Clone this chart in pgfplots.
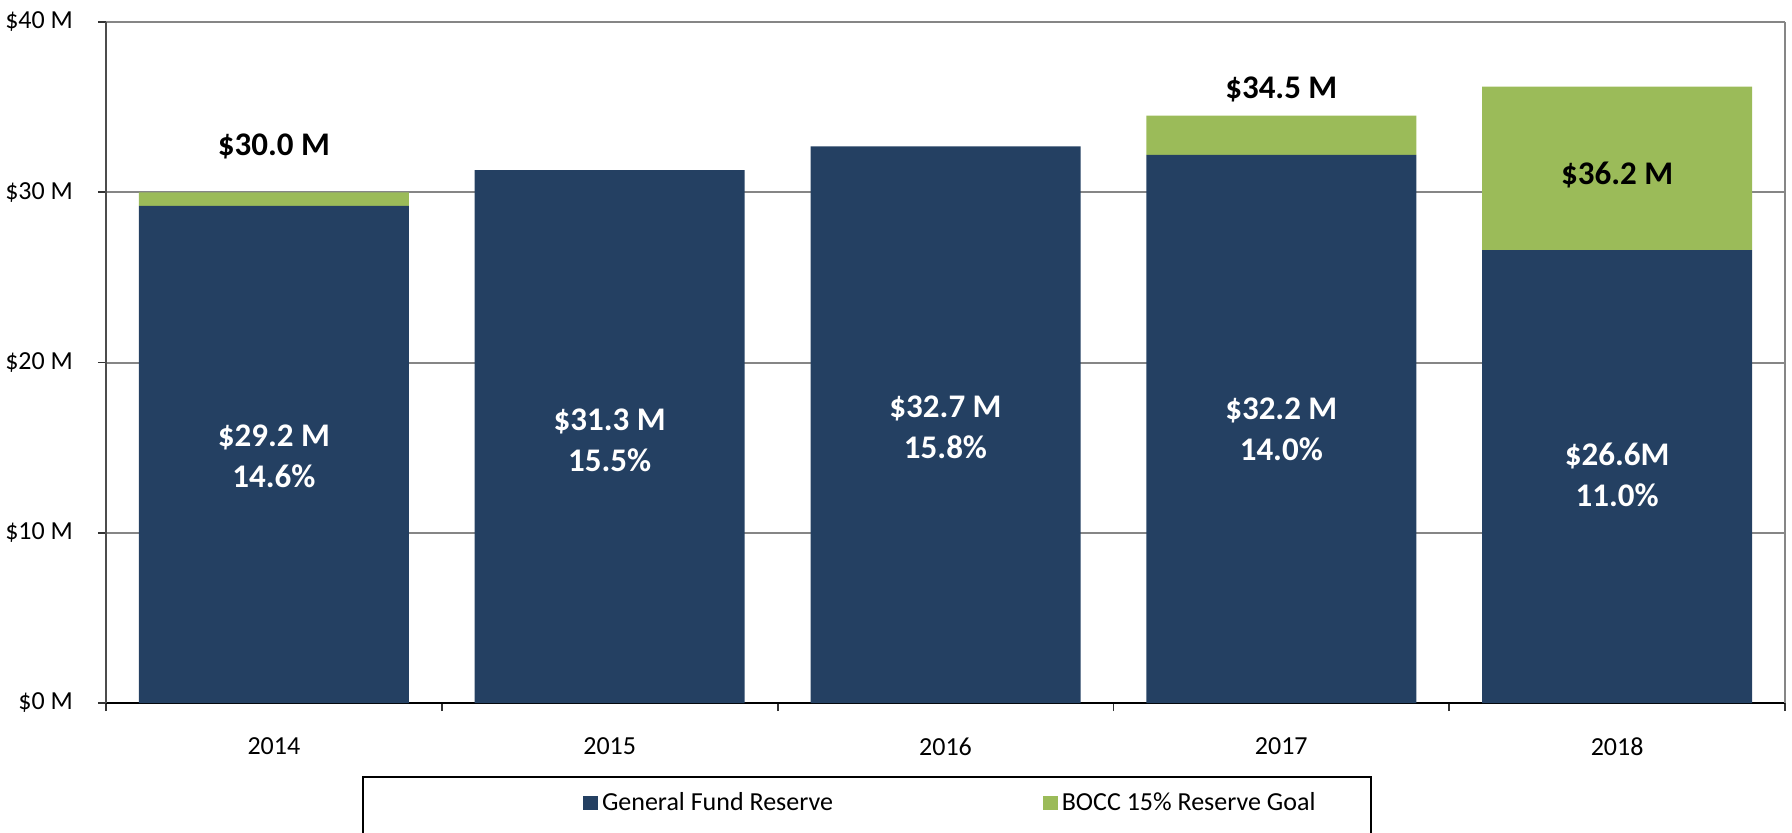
\documentclass[border=0pt]{standalone}
\usepackage{pgfplots}
\pgfplotsset{compat=1.18}
\usepackage{pgfplotstable}
\usepackage{fontspec}
\setmainfont{Carlito}
\definecolor{navy}{HTML}{244062}
\definecolor{leaf}{HTML}{9BBB59}
\definecolor{gridgray}{HTML}{868686}
\tikzset{lbl/.style={font=\fontsize{16.5}{20.5}\selectfont\bfseries, align=center}}
\pgfplotstableread{
x gf goal
0 29.2 0.8
1 31.3 0
2 32.7 0
3 32.2 2.3
4 26.6 9.6
}\reservetable
\begin{document}
\begin{tikzpicture}
\useasboundingbox (0,0) rectangle (896pt,416pt);
\begin{axis}[
  at={(53pt,64.5pt)}, anchor=south west,
  scale only axis, width=839.5pt, height=340.5pt,
  clip=false,
  ybar stacked, bar width=135pt,
  xmin=-0.5, xmax=4.5, ymin=0, ymax=40,
  axis lines*=left,
  x axis line style={black, line width=1.4pt},
  y axis line style={black!70, line width=1.4pt},
  xtick={-0.5,0.5,...,4.5},
  x tick label as interval,
  xticklabels={2014,2015,2016,2017,2018},
  ytick={0,10,20,30,40},
  yticklabels={\$0 M,\$10 M,\$20 M,\$30 M,\$40 M},
  tick align=outside,
  major tick length=4pt,
  tick style={black!80, line width=0.9pt},
  ymajorgrids,
  grid style={gridgray, line width=1pt},
  /pgf/number format/assume math mode=true,
  ticklabel style={font=\fontsize{13}{15}\selectfont},
  yticklabel style={xshift=-9pt},
  xticklabel style={yshift=-10pt},
  legend columns=2,
  legend style={draw=none, fill=none, at={(0.284,-0.1468)}, anchor=west,
    inner xsep=0pt, font=\fontsize{13}{15}\selectfont,
    /tikz/every even column/.append style={column sep=103pt}},
]
\addplot[fill=navy, draw=none,
  legend image code/.code={\fill[navy] (0pt,-3.7pt) rectangle (7.4pt,3.7pt);}]
  table[x=x, y=gf]{\reservetable};
\addlegendentry{General Fund Reserve}
\addplot[fill=leaf, draw=none,
  legend image code/.code={\fill[leaf] (0pt,-3.7pt) rectangle (7.4pt,3.7pt);}]
  table[x=x, y=goal]{\reservetable};
\addlegendentry{BOCC 15\% Reserve Goal}
\coordinate (RB0) at (rel axis cs:1,0);
\coordinate (RB1) at (rel axis cs:1,1);
\coordinate (LG0) at (rel axis cs:0.1531,-0.201);
\coordinate (LG1) at (rel axis cs:0.7534,-0.1087);
\coordinate (A0) at (axis cs:0,14.5);
\coordinate (A1) at (axis cs:1,15.45);
\coordinate (A2) at (axis cs:2,16.2);
\coordinate (A3) at (axis cs:3,16.05);
\coordinate (A4) at (axis cs:4,13.4);
\coordinate (T0) at (axis cs:0,32.7);
\coordinate (T3) at (axis cs:3,36.06);
\coordinate (T4) at (axis cs:4,31.0);
\end{axis}
\draw[gridgray, line width=1.2pt] (RB0) -- (RB1);
\draw[black, line width=0.8pt] (LG0) rectangle (LG1);
\node[lbl, white] at (A0) {\$29.2 M\\14.6\%};
\node[lbl, white] at (A1) {\$31.3 M\\15.5\%};
\node[lbl, white] at (A2) {\$32.7 M\\15.8\%};
\node[lbl, white] at (A3) {\$32.2 M\\14.0\%};
\node[lbl, white] at (A4) {\$26.6M\\11.0\%};
\node[lbl, black] at (T0) {\$30.0 M};
\node[lbl, black] at (T3) {\$34.5 M};
\node[lbl, black] at (T4) {\$36.2 M};
\end{tikzpicture}
\end{document}
